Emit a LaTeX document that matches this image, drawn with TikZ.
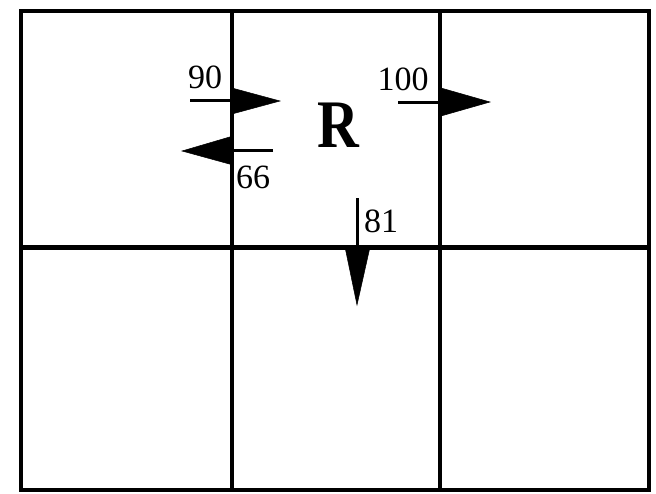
\documentclass[tikz,border=0pt]{standalone}
\usepackage{fontspec}
\setmainfont{Liberation Serif}
\begin{document}
\begin{tikzpicture}[x=1pt,y=-1pt,
  gridline/.style={line width=4pt},
  shaft/.style={line width=3pt},
  head/.style={fill=black,draw=black,line width=0.5pt},
  num/.style={font=\fontsize{34}{34}\selectfont,inner sep=0pt},
  big/.style={font=\fontsize{68}{68}\selectfont\bfseries,inner sep=0pt}]
\useasboundingbox (0,0) rectangle (656,493);
% grid
\draw[line width=4.5pt] (21,11) rectangle (649,490);
\draw[gridline] (232,11) -- (232,490);
\draw[gridline] (440,11) -- (440,490);
\draw[line width=5pt] (21,247) -- (649,247);
% arrow 90
\coordinate (a90s) at (190,100);
\coordinate (a90b) at (232,100);
\draw[shaft] (a90s) -- (a90b);
\fill[head] (232,88) -- (280,101) -- (232,114) -- cycle;
\node[num] (l90) at (205,77) {90};
% arrow 66
\coordinate (a66s) at (273,150);
\coordinate (a66b) at (232,150);
\draw[shaft] (a66s) -- (a66b);
\fill[head] (233,136) -- (182,151) -- (233,165) -- cycle;
\node[num] (l66) at (253,177) {66};
% arrow 100
\coordinate (a100s) at (398,102);
\coordinate (a100b) at (440,102);
\draw[shaft] (a100s) -- (a100b);
\fill[head] (441,88) -- (490,102) -- (441,116) -- cycle;
\node[num] (l100) at (403,79) {100};
% arrow 81
\coordinate (a81s) at (357,198);
\coordinate (a81b) at (357,247);
\draw[shaft] (a81s) -- (a81b);
\fill[head] (345,247) -- (357,305) -- (370,247) -- cycle;
\node[num] (l81) at (381,221) {81};
% R
\node[big] (R) at (338,125) {\scalebox{0.85}[1]{R}};
\end{tikzpicture}
\end{document}
